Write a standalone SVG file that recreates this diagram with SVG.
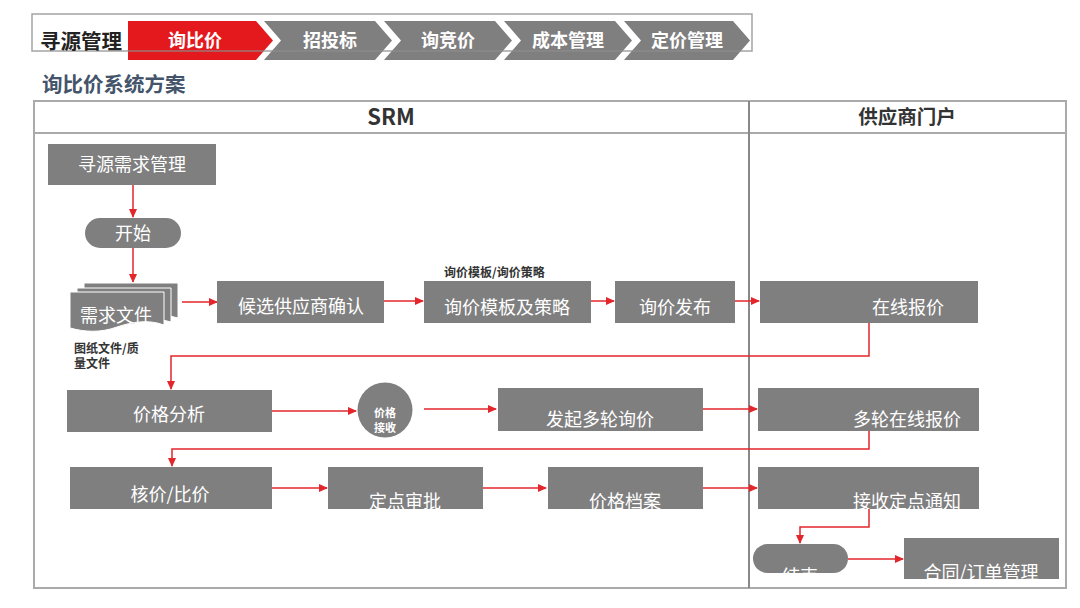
<svg xmlns="http://www.w3.org/2000/svg" width="1080" height="608" viewBox="0 0 1080 608">
<style>
text{font-family:"Noto Sans CJK SC","Liberation Sans",sans-serif;}
.nb{fill:#7f7f7f;}
.nt{fill:#ffffff;font-size:18px;text-anchor:middle;}
.ct{fill:#ffffff;font-size:18px;font-weight:bold;text-anchor:middle;}
.lbl{fill:#333333;font-size:12px;font-weight:bold;}
.hd{fill:#333333;font-weight:bold;text-anchor:middle;}
.cn{fill:none;stroke:#e3262b;stroke-width:1.5;marker-end:url(#ah);}
.pg{fill:#7f7f7f;stroke:#ffffff;stroke-width:1;}
</style>
<defs>
<marker id="ah" markerUnits="userSpaceOnUse" markerWidth="9" markerHeight="8" refX="8" refY="4" orient="auto">
<path d="M0,0 L9,4 L0,8 Z" fill="#e3262b"/>
</marker>
<clipPath id="c1"><rect x="328" y="467" width="155" height="42"/></clipPath>
<clipPath id="c2"><rect x="548" y="467" width="155" height="42"/></clipPath>
<clipPath id="c3"><rect x="758" y="467" width="221" height="42"/></clipPath>
<clipPath id="c4"><rect x="753" y="544" width="95" height="29"/></clipPath>
<clipPath id="c5"><rect x="904" y="538" width="155" height="41"/></clipPath>
</defs>
<rect width="1080" height="608" fill="#ffffff"/>

<g id="topbar">
<polygon points="128,21 256,21 273,40.5 256,60 128,60" fill="#e3191e"/>
<polygon points="264,21 375,21 392,40.5 375,60 264,60 281,40.5" fill="#7f7f7f"/>
<polygon points="384,21 495,21 512,40.5 495,60 384,60 401,40.5" fill="#7f7f7f"/>
<polygon points="504,21 615,21 632,40.5 615,60 504,60 521,40.5" fill="#7f7f7f"/>
<polygon points="624,21 733,21 750,40.5 733,60 624,60 641,40.5" fill="#7f7f7f"/>
<rect x="32" y="14" width="720" height="37" fill="none" stroke="#8c8c8c" stroke-width="1.5" stroke-opacity="0.8"/>
<text x="81" y="49" font-size="20.5" font-weight="bold" fill="#222222" text-anchor="middle">寻源管理</text>
<text class="ct" x="195" y="47">询比价</text>
<text class="ct" x="330" y="47">招投标</text>
<text class="ct" x="448" y="47">询竞价</text>
<text class="ct" x="568" y="47">成本管理</text>
<text class="ct" x="687" y="47">定价管理</text>
</g>

<text x="42" y="92" font-size="20.5" font-weight="bold" fill="#44546a">询比价系统方案</text>

<g id="frame">
<rect x="34" y="101" width="1032" height="487" fill="none" stroke="#aaaaaa" stroke-width="2"/>
<line x1="34" y1="133" x2="1066" y2="133" stroke="#aaaaaa" stroke-width="2"/>
<line x1="749" y1="101" x2="749" y2="588" stroke="#888888" stroke-width="2"/>
<text class="hd" x="391" y="125" font-size="22">SRM</text>
<text class="hd" x="907" y="124" font-size="19.5">供应商门户</text>
</g>

<g id="connectors">
<path class="cn" d="M133,185 V217"/>
<path class="cn" d="M133,248 V282"/>
<path class="cn" d="M182,302 H217"/>
<path class="cn" d="M383,301 H423"/>
<path class="cn" d="M591,301 H614"/>
<path class="cn" d="M735,301 H759"/>
<path class="cn" d="M869,323 V356 H171 V389"/>
<path class="cn" d="M272,411 H356"/>
<path class="cn" d="M424,409 H496"/>
<path class="cn" d="M703,409 H757"/>
<path class="cn" d="M869,431 V449 H172 V466"/>
<path class="cn" d="M268,488 H327"/>
<path class="cn" d="M483,488 H546"/>
<path class="cn" d="M703,488 H757"/>
<path class="cn" d="M869,509 V527 H800 V543"/>
<path class="cn" d="M848,559 H903"/>
</g>

<g id="n-xuqiuguanli">
<rect class="nb" x="48" y="144" width="168" height="41"/>
<text class="nt" x="132" y="171">寻源需求管理</text>
</g>
<g id="n-kaishi">
<rect class="nb" x="85" y="218" width="96" height="30" rx="15"/>
<text class="nt" x="133" y="240" font-size="16">开始</text>
</g>
<g id="n-xuqiuwenjian">
<path class="pg" d="M84,283 H178 V318 C165,314 150,316 140,320 L84,320 Z"/>
<path class="pg" d="M77,288 H171 V322 C158,318 143,320 133,324 L77,324 Z"/>
<path class="pg" d="M70,292 H164 V325 C148,319 132,322 117,327 C100,333 85,332 70,328 Z"/>
<text class="nt" x="116" y="322">需求文件</text>
<text class="lbl" x="74" y="353">图纸文件/质</text>
<text class="lbl" x="74" y="368">量文件</text>
</g>
<g id="n-houxuan">
<rect class="nb" x="217" y="281" width="167" height="42"/>
<text class="nt" x="301" y="313">候选供应商确认</text>
</g>
<g id="n-moban">
<text class="lbl" x="444" y="277">询价模板/询价策略</text>
<rect class="nb" x="424" y="281" width="167" height="42"/>
<text class="nt" x="507" y="314">询价模板及策略</text>
</g>
<g id="n-fabu">
<rect class="nb" x="615" y="281" width="120" height="42"/>
<text class="nt" x="675" y="314">询价发布</text>
</g>
<g id="n-zaixian">
<rect class="nb" x="760" y="281" width="218" height="42"/>
<text class="nt" x="908" y="314">在线报价</text>
</g>
<g id="n-fenxi">
<rect class="nb" x="67" y="390" width="205" height="42"/>
<text class="nt" x="169" y="421">价格分析</text>
</g>
<g id="n-jieshou">
<circle class="nb" cx="385" cy="410" r="27.5"/>
<text x="385" y="417" font-size="11" font-weight="bold" fill="#ffffff" text-anchor="middle">价格</text>
<text x="385" y="432" font-size="11" font-weight="bold" fill="#ffffff" text-anchor="middle">接收</text>
</g>
<g id="n-duolun">
<rect class="nb" x="498" y="388" width="205" height="43"/>
<text class="nt" x="600" y="426">发起多轮询价</text>
</g>
<g id="n-duolunbaojia">
<rect class="nb" x="758" y="388" width="221" height="43"/>
<text class="nt" x="907" y="426">多轮在线报价</text>
</g>
<g id="n-hejia">
<rect class="nb" x="70" y="467" width="202" height="42"/>
<text class="nt" x="170" y="501">核价/比价</text>
</g>
<g id="n-dingdian">
<rect class="nb" x="328" y="467" width="155" height="42"/>
<text class="nt" x="405" y="508" clip-path="url(#c1)">定点审批</text>
</g>
<g id="n-dangan">
<rect class="nb" x="548" y="467" width="155" height="42"/>
<text class="nt" x="625" y="508" clip-path="url(#c2)">价格档案</text>
</g>
<g id="n-tongzhi">
<rect class="nb" x="758" y="467" width="221" height="42"/>
<text class="nt" x="907" y="508" clip-path="url(#c3)">接收定点通知</text>
</g>
<g id="n-jieshu">
<rect class="nb" x="753" y="544" width="95" height="29" rx="14.5"/>
<text class="nt" x="800" y="583" clip-path="url(#c4)">结束</text>
</g>
<g id="n-hetong">
<rect class="nb" x="904" y="538" width="155" height="41"/>
<text class="nt" x="981" y="579" clip-path="url(#c5)">合同/订单管理</text>
</g>
</svg>
